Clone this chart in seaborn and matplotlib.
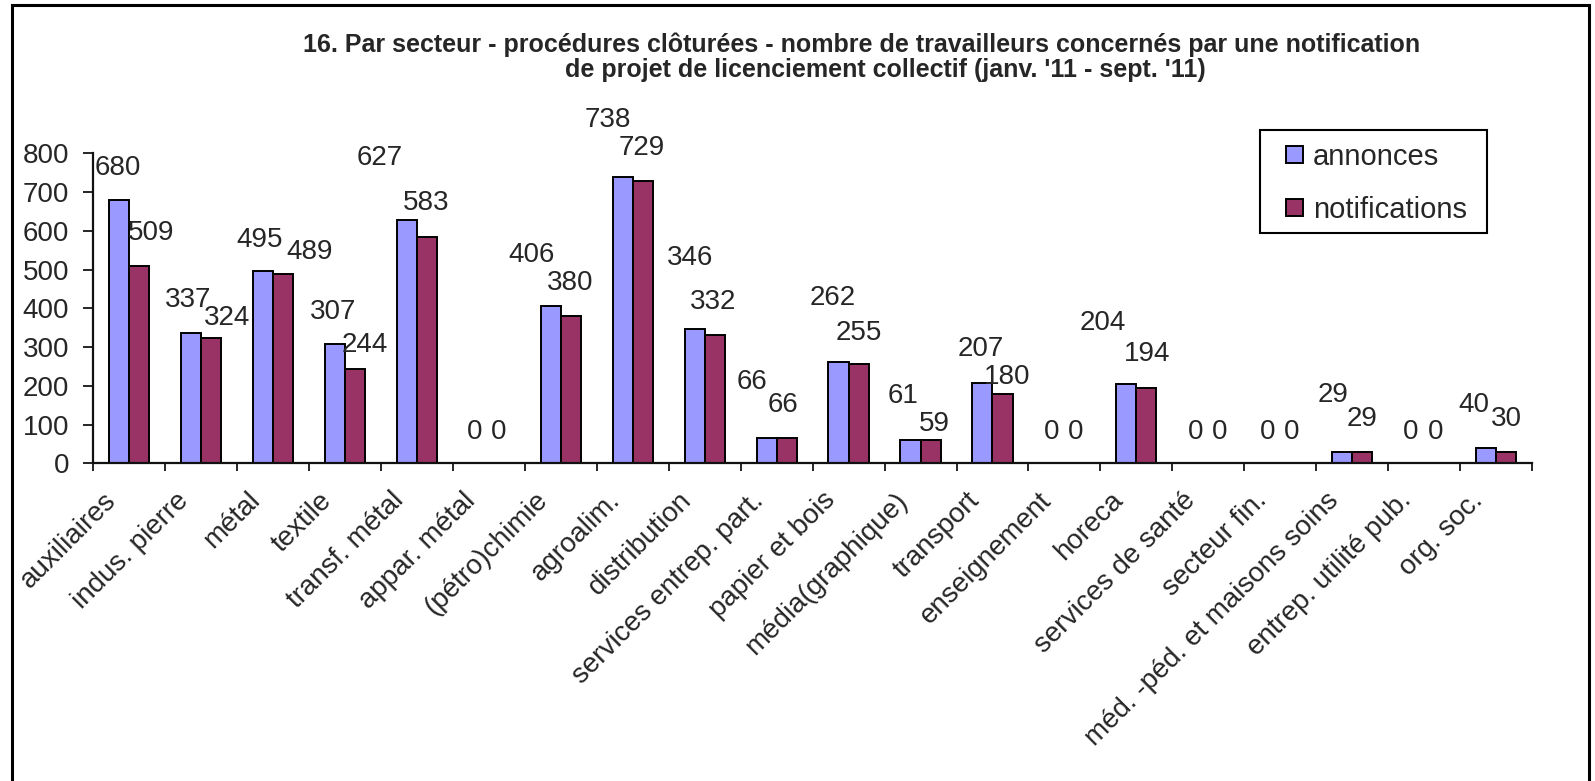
import matplotlib.pyplot as plt
import matplotlib.transforms as mtransforms
from matplotlib.patches import Patch, Rectangle
import pandas as pd
import seaborn as sns

sectors = ['auxiliaires', 'indus. pierre', 'métal', 'textile', 'transf. métal',
           'appar. métal', '(pétro)chimie', 'agroalim.', 'distribution',
           'services entrep. part.', 'papier et bois', 'média(graphique)',
           'transport', 'enseignement', 'horeca', 'services de santé',
           'secteur fin.', 'méd. -péd. et maisons soins', 'entrep. utilité pub.',
           'org. soc.']
annonces = [680, 337, 495, 307, 627, 0, 406, 738, 346, 66,
            262, 61, 207, 0, 204, 0, 0, 29, 0, 40]
notifications = [509, 324, 489, 244, 583, 0, 380, 729, 332, 66,
                 255, 59, 180, 0, 194, 0, 0, 29, 0, 30]
series_names = ['annonces', 'notifications']
colors = ['#9999FF', '#993366']

# data label offsets in pixels (the labels were moved around by hand in the original)
ann_dx = [-1, -3, -3, -2, -27, -4, -19, -15, -5, -15, -6, -7, -2, -3, -23, -3, -3, -9, -3, -12]
ann_dy = [32, 33, 31, 32, 62, 31, 51, 57, 71, 56, 64, 44, 34, 31, 61, 31, 31, 57, 31, 43]
not_dx = [12, 16, 26, 10, -1, 0, -1, -1, -2, -4, 0, 4, 5, 1, 1, 1, 1, 0, 1, 0]
not_dy = [33, 20, 22, 24, 34, 31, 33, 33, 33, 33, 31, 16, 17, 31, 34, 31, 31, 33, 31, 33]

df = pd.DataFrame({
    'secteur': sectors * 2,
    'valeur': annonces + notifications,
    'serie': [series_names[0]] * len(sectors) + [series_names[1]] * len(sectors),
})

sns.set_style('white')
plt.rcParams['font.family'] = ['Liberation Sans', 'DejaVu Sans']

W, H = 1595, 781
fig = plt.figure(figsize=(W / 100, H / 100), dpi=100)
ax = fig.add_axes([93.3 / W, 1 - 463.3 / H, (1532 - 93.3) / W, 310 / H])

sns.barplot(data=df, x='secteur', y='valeur', hue='serie', palette=colors,
            width=0.56, gap=0, saturation=1, edgecolor='black', linewidth=1.4,
            legend=False, ax=ax)

ax.set_xlim(-0.5, len(sectors) - 0.5)
ax.set_ylim(0, 800)
ax.set_yticks(range(0, 801, 100))
ax.set_xlabel('')
ax.set_ylabel('')
for side in ['top', 'right']:
    ax.spines[side].set_visible(False)
for side in ['left', 'bottom']:
    ax.spines[side].set_linewidth(1.6)
    ax.spines[side].set_color('#111111')

ax.tick_params(axis='y', direction='out', length=7.5, width=1.4, labelsize=20, pad=10, left=True)
ax.set_xticks(range(len(sectors)))
ax.set_xticklabels(sectors, rotation=45, ha='right', va='center', rotation_mode='anchor')
ax.tick_params(axis='x', which='major', length=0, labelsize=20, pad=24)
ax.set_xticks([i - 0.5 for i in range(len(sectors) + 1)], minor=True)
ax.tick_params(axis='x', which='minor', direction='out', length=6, width=1.4, bottom=True)
shift = mtransforms.ScaledTranslation(-0.17, 0, fig.dpi_scale_trans)
for lbl in ax.get_xticklabels():
    lbl.set_transform(lbl.get_transform() + shift)

for cont, vals, dxs, dys in [(ax.containers[0], annonces, ann_dx, ann_dy),
                             (ax.containers[1], notifications, not_dx, not_dy)]:
    for bar, v, dx, dy in zip(cont, vals, dxs, dys):
        xc = bar.get_x() + bar.get_width() / 2
        ax.annotate(str(v), xy=(xc, v), xytext=(dx, dy), textcoords='offset pixels',
                    ha='center', va='center', fontsize=20, annotation_clip=False)

# legend without frame, box drawn separately to match the original padding
handles = [Patch(facecolor=c, edgecolor='black', linewidth=1.4) for c in colors]
leg = ax.legend(handles, series_names, loc='upper left',
                bbox_to_anchor=(1286 / W, 1 - 143 / H), bbox_transform=fig.transFigure,
                borderaxespad=0, borderpad=0, fontsize=21, frameon=False,
                handlelength=0.58, handleheight=0.55, handletextpad=0.34,
                labelspacing=0.85)
fig.add_artist(Rectangle((1260 / W, 1 - 233 / H), (1487 - 1260) / W, (233 - 130) / H,
                         transform=fig.transFigure, fill=False, edgecolor='black',
                         linewidth=1.5))

fig.text(862 / W, 1 - 52 / H,
         "16. Par secteur - procédures clôturées - nombre de travailleurs concernés par une notification",
         ha='center', va='baseline', fontsize=18, fontweight='bold')
fig.text(885 / W, 1 - 77 / H,
         "de projet de licenciement collectif (janv. '11 - sept. '11)",
         ha='center', va='baseline', fontsize=18, fontweight='bold')

fig.add_artist(Rectangle((11.7 / W, -0.02), (1589 - 11.7) / W, 1.02 - 5 / H,
                         transform=fig.transFigure, fill=False, edgecolor='black',
                         linewidth=2.2, clip_on=False))

fig.savefig('out.png', dpi=100)
